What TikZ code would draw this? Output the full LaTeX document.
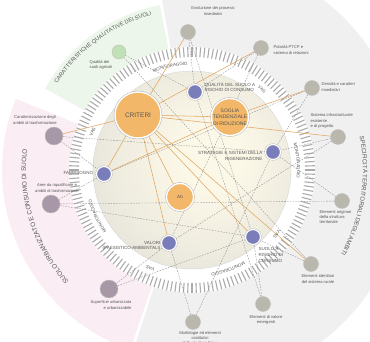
\documentclass[tikz,border=0pt]{standalone}
\usepackage{fontspec}
\setmainfont{Liberation Sans}
\usepackage{xcolor}
\usepackage{tikz}
\usetikzlibrary{positioning,calc,decorations.text,backgrounds}
\definecolor{coreorange}{RGB}{242,183,104}
\definecolor{themeblue}{RGB}{121,125,186}
\definecolor{factorgray}{RGB}{186,184,173}
\definecolor{urbanmauve}{RGB}{168,151,166}
\definecolor{agrigreen}{RGB}{192,224,182}
\definecolor{urbanband}{RGB}{250,238,244}
\definecolor{agriband}{RGB}{237,246,234}
\definecolor{specband}{RGB}{240,240,240}
\definecolor{linkorange}{RGB}{226,166,96}
\definecolor{txtgray}{RGB}{85,85,85}
\definecolor{discin}{RGB}{252,248,232}
\definecolor{discmid}{RGB}{222,221,214}
\definecolor{discout}{RGB}{203,203,199}
\pgfdeclareradialshading{discshade}{\pgfpoint{6bp}{4bp}}{color(0bp)=(discin); color(8bp)=(discin); color(40bp)=(discmid); color(50bp)=(discout)}
\newcommand\ringfont{\fontsize{4.4}{5}\selectfont\color{txtgray}}
\tikzset{
  core/.style={circle, fill=coreorange, draw=white, line width=1.4pt, preaction={draw=black!30, line width=2.3pt}, inner sep=0pt, align=center, text=txtgray},
  theme/.style={circle, fill=themeblue, draw=white, line width=1.2pt, preaction={draw=black!30, line width=2pt}, minimum size=15pt, inner sep=0pt},
  factor/.style={circle, fill=factorgray, draw=black!25, line width=0.4pt, minimum size=15pt, inner sep=0pt},
  urban/.style={factor, fill=urbanmauve, minimum size=18pt},
  agri/.style={factor, fill=agrigreen, minimum size=14pt},
  factorlbl/.style={font=\fontsize{4.1}{5.1}\selectfont, text=txtgray, inner sep=0.5pt, align=center},
  themelbl/.style={font=\fontsize{4.5}{5.6}\selectfont, text=txtgray, inner sep=0.5pt, align=left},
  link/.style={draw=linkorange, line width=0.55pt},
  dlink/.style={draw=black!45, line width=0.35pt, dash pattern=on 1.6pt off 1.2pt},
  ringtick/.style={draw=black!33, line width=1.1pt},
}

\begin{document}
\begin{tikzpicture}[x=1pt,y=1pt]
  \useasboundingbox (0,0) rectangle (370,-342);
  \coordinate (C) at (192,-170);
  \begin{scope}[on background layer]
    \clip (0,0) rectangle (370,-342);
    \fill[agriband] ($(C)+(101:123)$) arc[start angle=101, end angle=151, radius=123] -- ($(C)+(151:168)$) arc[start angle=151, end angle=101, radius=168] -- cycle;
    \fill[urbanband] ($(C)+(158:123)$) arc[start angle=158, end angle=251, radius=123] -- ($(C)+(251:190)$) arc[start angle=251, end angle=158, radius=190] -- cycle;
    \fill[specband] ($(C)+(-108:123)$) arc[start angle=-108, end angle=100, radius=123] -- ($(C)+(100:215)$) arc[start angle=100, end angle=-108, radius=215] -- cycle;
    \foreach \a in {0,2,...,358} {\draw[ringtick] ($(C)+(\a:113)$) -- ($(C)+(\a:123)$);}
    \shadedraw[shading=discshade, draw=black!18, line width=0.3pt] (C) circle[radius=99];
  \end{scope}

  % ring labels
  \foreach \a/\w in {102/MONITORAGGIO,49/VAS,5/MONITORAGGIO,-37/VAS,-70/MONITORAGGIO,-113/VAS,-154/MONITORAGGIO,159/VAS} {
    \edef\ringtext{|\noexpand\ringfont|\w}
    \path[decorate, decoration={text along path, text align=center, text/.expand once=\ringtext}]
      ($(C)+(\a+22:105)$) arc[start angle=\a+22, end angle=\a-22, radius=105];
  }
  \path[decorate, decoration={text along path, text align=center, text={|\fontsize{5.6}{6}\selectfont\color{txtgray}|CARATTERISTICHE QUALITATIVE DEI SUOLI}}]
    ($(C)+(152:160)$) arc[start angle=152, end angle=100, radius=160];
  \path[decorate, decoration={text along path, text align=center, text={|\fontsize{6.4}{7}\selectfont\color{txtgray}|SUOLO URBANIZZATO E CONSUMO DI SUOLO}}]
    ($(C)+(232:166)$) arc[start angle=232, end angle=163, radius=166];
  \path[decorate, decoration={text along path, text align=center, text={|\fontsize{6}{7}\selectfont\color{txtgray}|SPECIFICITÀ TERRITORIALI DEGLI AMBITI}}]
    ($(C)+(20:171)$) arc[start angle=20, end angle=-38, radius=171];

  \node[core, minimum size=46pt, font=\fontsize{6.5}{7}\selectfont] (crit) at (138,-115) {CRITERI};
  \node[core, minimum size=37pt, inner sep=-3pt, font=\fontsize{5}{6.3}\selectfont] (sogl) at (230,-117) {SOGLIA\\TENDENZIALE\\DI RIDUZIONE};
  \node[core, minimum size=27pt, font=\fontsize{4.5}{5}\selectfont] (ab) at (180,-197) {Ab};

  \node[theme] (qual) at (195,-92) {};
  \node[theme] (strat) at (273,-152) {};
  \node[theme] (fabb) at (104,-174) {};
  \node[theme] (valori) at (169,-243) {};
  \node[theme] (suolo) at (253,-237) {};
  \node[themelbl, anchor=west] (qualt) at (204,-87) {QUALITÀ DEL SUOLO A\\RISCHIO DI CONSUMO};
  \node[themelbl, align=right, anchor=east] (stratt) at (263,-156) {STRATEGIE E SISTEMI DELLA\\RIGENERAZIONE};
  \node[themelbl, left=2pt of fabb, yshift=1.5pt] (fabbt) {FABBISOGNO};
  \node[themelbl, align=right, anchor=east] (valorit) at (161,-246) {VALORI\\(PAESISTICO-AMBIENTALI)};
  \node[themelbl, anchor=north west] (suolot) at (258,-247) {SUOLO A\\RISCHIO DI\\CONSUMO};

  \node[agri] (agr) at (119,-52) {};
  \node[factor] (evol) at (188,-32) {};
  \node[factor] (polar) at (261,-48) {};
  \node[factor] (dens) at (312,-88) {};
  \node[factor] (sist) at (338,-137) {};
  \node[factor] (orig) at (342,-201) {};
  \node[factor] (ident) at (311,-264) {};
  \node[factor] (emerg) at (263,-304) {};
  \node[factor] (morf) at (193,-322) {};
  \node[urban] (sup) at (109,-289) {};
  \node[urban] (aree) at (51,-204) {};
  \node[urban] (carat) at (54,-136) {};
  \node[factorlbl, align=left] (agrt) at (101,-65) {Qualità dei\\suoli agricoli};
  \node[factorlbl] (evolt) at (213,-11) {Evoluzione dei processi\\insediativi};
  \node[factorlbl, align=left, anchor=west] (polart) at (273,-50) {Polarità PTCP e\\sistema di relazioni};
  \node[factorlbl, align=left, anchor=west] (denst) at (321,-87) {Densità e caratteri\\insediativi};
  \node[factorlbl, align=left, anchor=west] (sistt) at (310,-121) {Sistema infrastrutturale\\esistente\\e di progetto};
  \node[factorlbl, align=left, anchor=north west] (origt) at (319,-210) {Elementi originari\\della struttura\\territoriale};
  \node[factorlbl] (identt) at (318,-279) {Elementi identitari\\del sistema rurale};
  \node[factorlbl] (emergt) at (266,-320) {Elementi di valore\\emergenti};
  \node[factorlbl, anchor=north] (morft) at (200,-331) {Morfologie ed elementi\\costitutivi\\della struttura fisica};
  \node[factorlbl, align=right, anchor=east] (supt) at (132,-305) {Superficie urbanizzata\\e urbanizzabile};
  \node[factorlbl] (areet) at (57,-188) {Aree da riqualificare e\\ambiti di trasformazione};
  \node[factorlbl] (caratt) at (35,-120) {Caratterizzazione degli\\ambiti di trasformazione};

  \begin{scope}[on background layer]
    \foreach \q in {evol,polar,sogl,sist,ident,suolo,ab,valori,fabb,carat} {\draw[link] (crit) -- (\q);}
    \draw[link] (sogl) -- (fabb);
    \draw[link] (sogl) -- (dens);
    \foreach \p/\q in {agr/qual,agr/ident,evol/qual,evol/suolo,polar/qual,polar/valori,dens/strat,dens/fabb,sist/strat,sist/valori,orig/strat,aree/orig,ident/suolo,emerg/suolo,emerg/qual,morf/valori,morf/strat,sup/valori,sup/suolo,aree/fabb,aree/suolo,carat/fabb,carat/strat} {\draw[dlink] (\p) -- (\q);}
  \end{scope}
\end{tikzpicture}
\end{document}
